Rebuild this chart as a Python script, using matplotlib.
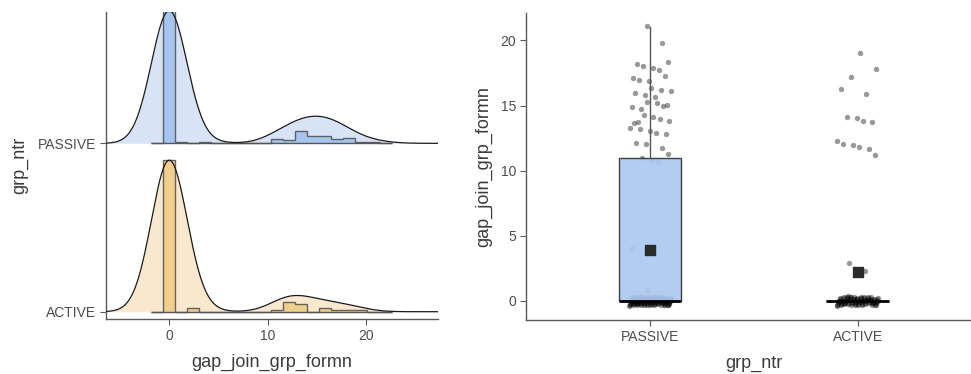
import matplotlib
matplotlib.use('Agg')
import matplotlib.pyplot as plt
import numpy as np

plt.rcParams['font.family'] = ['Liberation Sans', 'DejaVu Sans']

# data (values and how often each occurs)
groups = ['ACTIVE', 'PASSIVE']
passive_vals = [0, 1, 4, 11, 12, 13, 14, 15, 16, 17, 18, 20, 21]
passive_counts = [114, 1, 1, 4, 3, 5, 6, 6, 6, 4, 5, 1, 1]
active_vals = [0, 2, 3, 11, 12, 14, 16, 17, 18, 19]
active_counts = [82, 1, 1, 1, 5, 4, 2, 1, 1, 1]

light = {'PASSIVE': '#d8e4f6', 'ACTIVE': '#f8e8ce'}
mid = {'PASSIVE': '#a5c4ee', 'ACTIVE': '#f0ce8c'}
box_fill = {'PASSIVE': '#adc8f0', 'ACTIVE': '#f0ce8c'}

data = {
    'PASSIVE': np.repeat(passive_vals, passive_counts).astype(float),
    'ACTIVE': np.repeat(active_vals, active_counts).astype(float),
}

axis_col = '#5a5a5a'
text_col = '#4d4d4d'
title_col = '#3c3c3c'


def style_axes(ax):
    for s in ['top', 'right']:
        ax.spines[s].set_visible(False)
    for s in ['left', 'bottom']:
        ax.spines[s].set_color(axis_col)
        ax.spines[s].set_linewidth(1.0)
    ax.tick_params(colors=axis_col, labelcolor=text_col, labelsize=10,
                   length=4, width=0.8, pad=3)


def kde(x, grid, bw):
    z = (grid[:, None] - x[None, :]) / bw
    return np.exp(-0.5 * z ** 2).sum(axis=1) / (len(x) * bw * np.sqrt(2 * np.pi))


fig = plt.figure(figsize=(9.71, 3.74), dpi=100)

# ---- left: ridgeline with histogram
ax1 = fig.add_axes([0.1092, 0.1463, 0.3419, 0.8225])
xlim = (-6.4, 27.3)
grid = np.linspace(xlim[0], xlim[1], 600)
bw = 1.8
edges = np.arange(-1.82, 23.0, 1.22)

dens = {g: kde(data[g], grid, bw) for g in groups}
top = max(d.max() for d in dens.values())
scale = 0.90 / top

for pos, g in [(2, 'PASSIVE'), (1, 'ACTIVE')]:
    d = dens[g] * scale
    ax1.fill_between(grid, pos, pos + d, color=light[g], lw=0, zorder=1)
    counts, _ = np.histogram(data[g], bins=edges)
    h = counts / counts.max() * d.max()
    ax1.stairs(pos + h, edges, baseline=pos, fill=True, facecolor=mid[g],
               edgecolor='none', zorder=2)
    ax1.stairs(pos + h, edges, baseline=pos, fill=False, edgecolor='#555555',
               lw=1.0, alpha=0.9, zorder=3)
    ax1.hlines(pos, edges[0], edges[-1], color='#555555', lw=1.0, zorder=3)
    ax1.plot(grid, pos + d, color='#1a1a1a', lw=0.9, zorder=4)

ax1.set_xlim(*xlim)
ax1.set_ylim(0.955, 2.782)
ax1.set_xticks([0, 10, 20])
ax1.set_yticks([1, 2])
ax1.set_yticklabels(groups)
style_axes(ax1)
ax1.set_xlabel('gap_join_grp_formn', fontsize=13, color=title_col, labelpad=8)
ax1.set_ylabel('grp_ntr', fontsize=13, color=title_col, labelpad=7)

# ---- right: box plot with jittered points
ax2 = fig.add_axes([0.5414, 0.1444, 0.4699, 0.82])
phi = (np.sqrt(5) - 1) / 2
order = ['PASSIVE', 'ACTIVE']
for k, g in enumerate(order, start=1):
    y = data[g]
    idx = np.arange(len(y))
    jx = ((idx * phi) % 1 - 0.5) * 0.2
    jy = ((idx * np.sqrt(2)) % 1 - 0.5) * 0.7
    ax2.scatter(k + jx, y + jy, s=15, color='black', alpha=0.4, lw=0, zorder=1)

bp = ax2.boxplot([data[g] for g in order], positions=[1, 2], widths=0.3,
                 patch_artist=True, showfliers=False, showcaps=False,
                 whis=1.5, zorder=2)
for patch, g in zip(bp['boxes'], order):
    patch.set_facecolor(box_fill[g])
    patch.set_alpha(0.92)
    patch.set_edgecolor('#333333')
    patch.set_linewidth(1.0)
for w in bp['whiskers']:
    w.set_color('#555555')
    w.set_linewidth(1.0)
for m in bp['medians']:
    m.set_color('black')
    m.set_linewidth(2.0)
    m.set_zorder(3)

means = [data[g].mean() for g in order]
ax2.plot([1, 2], means, ls='none', marker='s', ms=7.5, color='#2b2b2b', zorder=4)

ax2.set_xlim(0.4, 2.6)
ax2.set_ylim(-1.46, 22.08)
ax2.set_xticks([1, 2])
ax2.set_xticklabels(order)
ax2.set_yticks([0, 5, 10, 15, 20])
style_axes(ax2)
ax2.set_xlabel('grp_ntr', fontsize=13, color=title_col, labelpad=8)
ax2.set_ylabel('gap_join_grp_formn', fontsize=13, color=title_col, labelpad=6)

fig.savefig('out.png', dpi=100)
